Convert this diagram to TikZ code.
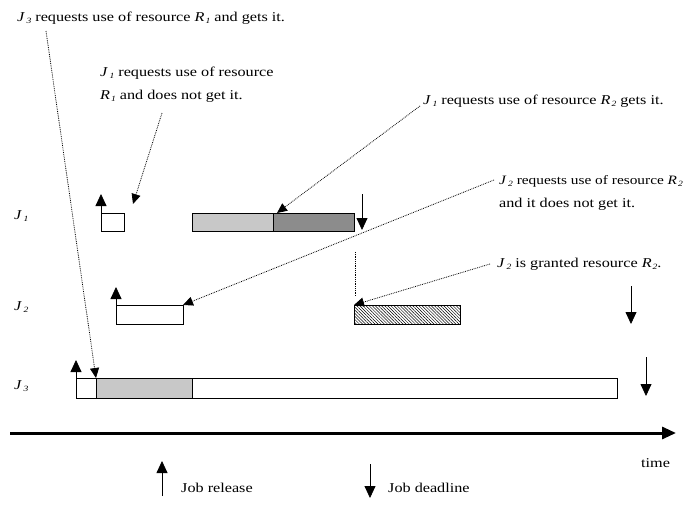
\documentclass[tikz,border=0pt]{standalone}
\usepackage{fontspec}
\setmainfont[FakeStretch=1.2]{Liberation Serif}
\usetikzlibrary{arrows.meta,patterns.meta}
\definecolor{lightbar}{RGB}{200,200,200}
\definecolor{darkbar}{RGB}{140,140,140}
\newcommand\Jx[1]{\textit{J}\kern1.5pt\raisebox{-0.35ex}{\fontsize{8}{8}\selectfont\textit{#1}}}
\newcommand\Rx[1]{\textit{R}\kern1pt\raisebox{-0.35ex}{\fontsize{8}{8}\selectfont\textit{#1}}}
\begin{document}
\begin{tikzpicture}[x=1pt,y=-1pt,
  bar/.style={draw, line width=0.8pt, inner sep=0, outer sep=0, anchor=north west},
  lbl/.style={font=\fontsize{13.5}{17}\selectfont, inner sep=0, anchor=base west},
  ptr/.style={densely dotted, line width=0.8pt, -{Triangle[length=10pt,width=9pt]}},
  rel/.style={line width=0.8pt, -{Triangle[length=12pt,width=11pt]}},
  axis/.style={line width=3pt, -{Triangle[length=14pt,width=12pt]}}]
\useasboundingbox (0,0) rectangle (691,506);
% row labels
\node[lbl] (L1) at (14,219) {\Jx{1}};
\node[lbl] (L2) at (14,310) {\Jx{2}};
\node[lbl] (L3) at (14,389) {\Jx{3}};
% J1 bars
\node[bar, minimum width=23, minimum height=18] (j1a) at (101,213) {};
\node[bar, minimum width=81, minimum height=18, fill=lightbar] (j1b) at (192,213) {};
\node[bar, minimum width=81, minimum height=18, fill=darkbar] (j1c) at (273,213) {};
% J2 bars
\node[bar, minimum width=67, minimum height=19] (j2a) at (116,305) {};
\node[bar, minimum width=106, minimum height=19, pattern={Lines[angle=-45,distance=2.2pt,line width=0.5pt]}] (j2b) at (354,305) {};
% J3 bars
\node[bar, minimum width=20, minimum height=20] (j3a) at (76,378) {};
\node[bar, minimum width=96, minimum height=20, fill=lightbar] (j3b) at (96,378) {};
\node[bar, minimum width=425, minimum height=20] (j3c) at (192,378) {};
% release / deadline arrows
\coordinate (r1) at (101,194);
\coordinate (r2) at (116,287);
\coordinate (r3) at (76,360);
\coordinate (d1s) at (362,194);
\coordinate (d1e) at (362,230);
\coordinate (d2s) at (631,286);
\coordinate (d2e) at (631,324);
\coordinate (d3s) at (646,357);
\coordinate (d3e) at (646,396);
\draw[rel] (j1a.north west) -- (r1);
\draw[rel] (j2a.north west) -- (r2);
\draw[rel] (j3a.north west) -- (r3);
\draw[rel] (d1s) -- (d1e);
\draw[rel] (d2s) -- (d2e);
\draw[rel] (d3s) -- (d3e);
% time axis
\coordinate (ax0) at (10,433);
\coordinate (ax1) at (676,433);
\draw[axis] (ax0) -- (ax1);
\node[lbl] (time) at (641,467) {time};
% legend
\coordinate (lr0) at (162,496);
\coordinate (lr1) at (162,461);
\draw[rel] (lr0) -- (lr1);
\node[lbl] (lrt) at (181,492) {Job release};
\coordinate (ld0) at (370,464);
\coordinate (ld1) at (370,498);
\draw[rel] (ld0) -- (ld1);
\node[lbl] (ldt) at (388,492) {Job deadline};
% annotations
\node[lbl] (t1) at (17,21) {\Jx{3} requests use of resource \Rx{1} and gets it.};
\node[lbl] (t2a) at (100,76) {\Jx{1} requests use of resource};
\node[lbl] (t2b) at (100,99) {\Rx{1} and does not get it.};
\node[lbl] (t3) at (423,104) {\Jx{1} requests use of resource \Rx{2} gets it.};
\node[lbl, font=\fontsize{12.8}{17}\selectfont] (t4a) at (499,184) {\Jx{2} requests use of resource \Rx{2}};
\node[lbl] (t4b) at (499,207) {and it does not get it.};
\node[lbl] (t5) at (497,267) {\Jx{2} is granted resource \Rx{2}.};
% dotted pointers
\coordinate (p1) at (46,31);
\coordinate (p2) at (162,113);
\coordinate (p2e) at (133,204);
\coordinate (p3) at (420,106);
\coordinate (p4) at (494,180);
\coordinate (p5) at (490,264);
\coordinate (p6s) at (355,252);
\coordinate (p6e) at (355,296);
\draw[ptr] (p1) -- (j3b.north west);
\draw[ptr] (p2) -- (p2e);
\draw[ptr] (p3) -- ([xshift=4]j1c.north west);
\draw[ptr] (p4) -- (j2a.north east);
\draw[ptr] (p5) -- (j2b.north west);
\draw[densely dotted, line width=0.8pt] (p6s) -- (p6e);
\end{tikzpicture}
\end{document}
